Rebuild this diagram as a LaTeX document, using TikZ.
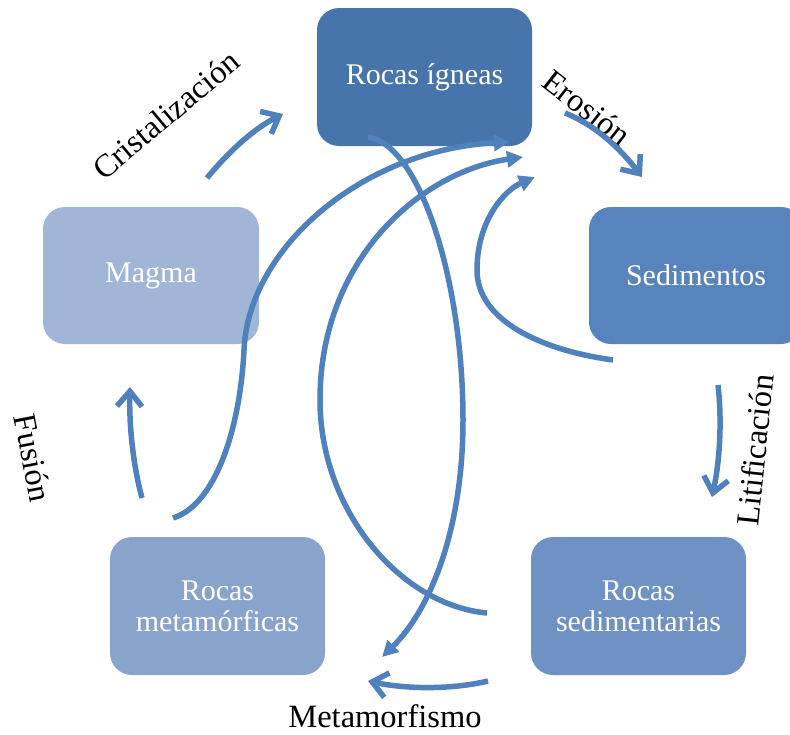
\documentclass[tikz,border=0pt]{standalone}
\usepackage{fontspec}
\setmainfont{Liberation Serif}
\usetikzlibrary{arrows.meta}
\definecolor{arrowblue}{RGB}{79,129,189}
\definecolor{cIgn}{RGB}{70,116,171}
\definecolor{cSed}{RGB}{88,132,189}
\definecolor{cSedr}{RGB}{112,145,196}
\definecolor{cMet}{RGB}{137,164,204}
\definecolor{cMag}{RGB}{161,181,214}
\begin{document}
\begin{tikzpicture}[x=1pt,y=-1pt,
  box/.style={rounded corners=22pt, text=white, align=center, inner sep=0pt,
    font=\fontsize{30}{31}\selectfont},
  cyc/.style={draw=arrowblue, line width=5.5pt, -{Straight Barb[length=15pt,width=25pt]}},
  cross/.style={draw=arrowblue, line width=5.5pt, -{Triangle[length=16pt,width=16pt]}},
  lbl/.style={font=\fontsize{32.5}{36}\selectfont, text=black, inner sep=0pt}]
\clip (0,0) rectangle (790,734);
\fill[white] (0,0) rectangle (790,734);
% boxes
\node[box, fill=cIgn, minimum width=215pt, minimum height=138pt] (ign) at (424.5,77) {Rocas ígneas};
\node[box, fill=cSed, minimum width=214pt, minimum height=137pt] (sed) at (696,275.5) {Sedimentos};
\node[box, fill=cSedr, minimum width=215pt, minimum height=138pt] (sedr) at (638.5,606) {Rocas\\sedimentarias};
\node[box, fill=cMet, minimum width=215pt, minimum height=138pt] (met) at (217.5,606) {Rocas\\metamórficas};
\node[box, fill=cMag, minimum width=216pt, minimum height=137pt] (mag) at (151,275.5) {Magma};
% labels
\node[lbl, rotate=40] (lcri) at (166,115) {Cristalización};
\node[lbl, rotate=-38] (lero) at (587,108) {Erosión};
\node[lbl, rotate=84] (llit) at (755,450) {Litificación};
\node[lbl, rotate=-79] (lfus) at (33,458) {Fusión};
\node[lbl] (lmet) at (385,716) {Metamorfismo};
% cycle arrow coordinates
\coordinate (c1s) at (207,178); \coordinate (c1e) at (283,114);
\coordinate (c2s) at (565,113); \coordinate (c2e) at (642,177);
\coordinate (c3s) at (718,385); \coordinate (c3e) at (712,497);
\coordinate (c4s) at (488,681); \coordinate (c4e) at (368,681);
\coordinate (c5s) at (142,498); \coordinate (c5e) at (130,387);
\draw[cyc] (c1s) .. controls (230,150) and (255,128) .. (c1e);
\draw[cyc] (c2s) .. controls (595,125) and (620,148) .. (c2e);
\draw[cyc] (c3s) .. controls (722,420) and (720,460) .. (c3e);
\draw[cyc] (c4s) .. controls (450,690) and (405,689) .. (c4e);
\draw[cyc] (c5s) .. controls (133,465) and (129,425) .. (c5e);
% cross arrows
\coordinate (aS) at (173,518); \coordinate (aM) at (244,350); \coordinate (aE) at (510,142);
\coordinate (bS) at (487,613); \coordinate (bM) at (320,400); \coordinate (bE) at (523,157);
\coordinate (cS) at (613,360); \coordinate (cM) at (477,270); \coordinate (cE) at (535,177);
\coordinate (dS) at (368,137); \coordinate (dM) at (463,420); \coordinate (dE) at (382,657);
\draw[cross] (aS) .. controls (215,505) and (240,430) .. (aM) .. controls (248,250) and (360,150) .. (aE);
\draw[cross] (bS) .. controls (400,605) and (320,510) .. (bM) .. controls (320,260) and (420,172) .. (bE);
\draw[cross] (cS) .. controls (540,350) and (477,320) .. (cM) .. controls (477,220) and (505,190) .. (cE);
\draw[cross] (dS) .. controls (420,145) and (463,280) .. (dM) .. controls (463,530) and (430,610) .. (dE);
\end{tikzpicture}
\end{document}
